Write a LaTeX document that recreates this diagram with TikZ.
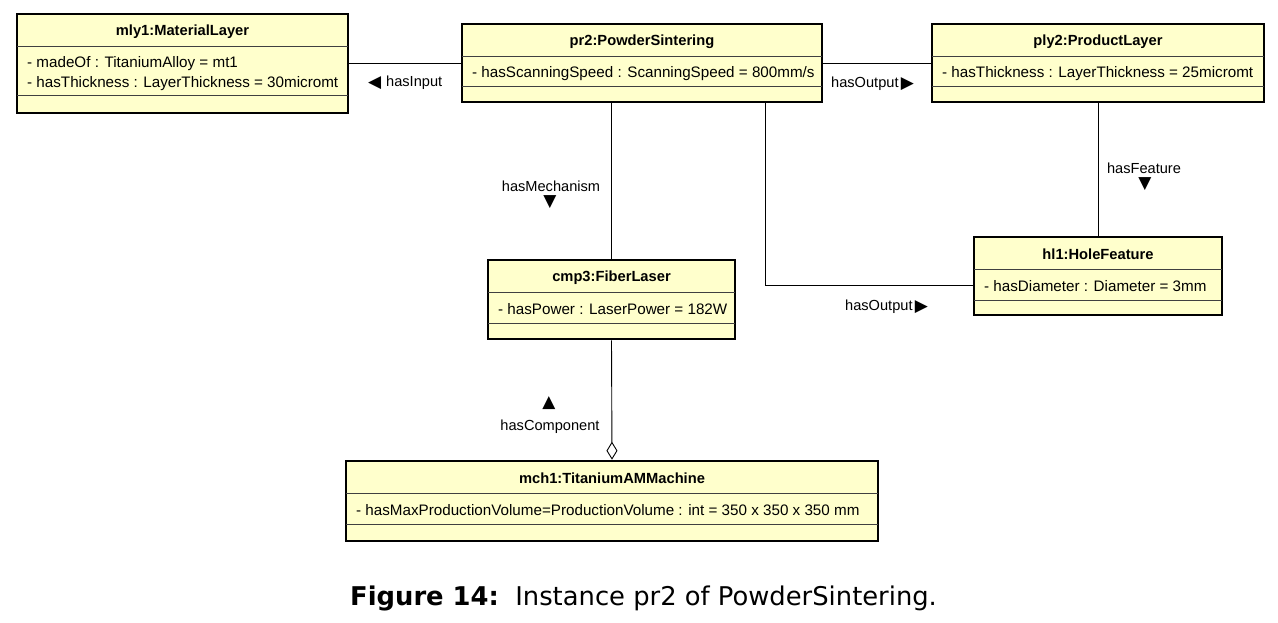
\documentclass[tikz,border=0pt]{standalone}
\usepackage{fontspec}
\setmainfont{Liberation Sans}
\newfontfamily\symfont{DejaVu Sans}
\newfontfamily\capfont{DejaVu Sans}
\usetikzlibrary{arrows.meta}
\definecolor{objfill}{RGB}{255,255,204}
\tikzset{
 objbox/.style={draw=black, line width=2.6pt, fill=objfill, inner sep=0pt, rectangle},
 divider/.style={draw=black!75, line width=1pt},
 titletext/.style={font=\fontsize{14.7}{16}\selectfont\bfseries, inner sep=0pt},
 attrtext/.style={font=\fontsize{15.2}{20}\selectfont, inner sep=0pt, anchor=west, align=left},
 lbl/.style={font=\fontsize{14.6}{16}\selectfont, inner sep=0pt},
 tri/.style={font=\symfont\fontsize{17}{18}\selectfont, inner sep=0pt},
 conn/.style={draw=black, line width=0.9pt},
}
\newcommand\umlobj[9]{%
 \node[objbox, minimum width={(#4-#2)*1pt}, minimum height={(#5-#3)*1pt}] (#1) at ({(#2+#4)/2},{(#3+#5)/2}) {};
 \draw[divider] (#2,#6) -- (#4,#6);
 \draw[divider] (#2,#7) -- (#4,#7);
 \node[titletext] (#1-title) at ({(#2+#4)/2},{(#3+#6)/2+1.5}) {#8};
 \node[attrtext] (#1-attrs) at ({#2+10},{(#6+#7)/2+2}) {#9};
}
\begin{document}
\begin{tikzpicture}[x=1pt,y=-1pt]
\useasboundingbox[fill=white] (0,0) rectangle (1278,623);
\umlobj{mly}{17}{14}{348}{113}{47}{96}{mly1:MaterialLayer}{- madeOf : TitaniumAlloy = mt1\\- hasThickness : LayerThickness = 30micromt}
\umlobj{pr2}{462}{24}{822}{102}{57}{87}{pr2:PowderSintering}{- hasScanningSpeed : ScanningSpeed = 800mm/s}
\umlobj{ply2}{932}{24}{1264}{102}{57}{87}{ply2:ProductLayer}{- hasThickness : LayerThickness = 25micromt}
\umlobj{cmp}{488}{260}{735}{339}{292}{323}{cmp3:FiberLaser}{- hasPower : LaserPower = 182W}
\umlobj{hl}{974}{237}{1222}{315}{269}{300}{hl1:HoleFeature}{- hasDiameter : Diameter = 3mm}
\umlobj{mch}{346}{461}{878}{541}{493}{524}{mch1:TitaniumAMMachine}{- hasMaxProductionVolume=ProductionVolume : int = 350 x 350 x 350 mm}
% connectors
\draw[conn] (pr2.west) -- (pr2.west -| mly.east);
\draw[conn] (pr2.east) -- (pr2.east -| ply2.west);
\draw[conn] (cmp.north |- pr2.south) -- (cmp.north);
\draw[conn] ([xshift=123pt]pr2.south) |- ([yshift=-9pt]hl.west);
\draw[conn] (ply2.south) -- (hl.north);
\draw[conn, -{Diamond[open,length=18pt,width=11pt,line width=0.9pt]}] (cmp.south) -- (mch.north);
% labels
\node[tri, anchor=west] (tIn) at (368,83) {◀};
\node[lbl, anchor=west] (lIn) at (386,83) {hasInput};
\node[lbl, anchor=west] (lOut1) at (831,84) {hasOutput};
\node[tri, anchor=west] (tOut1) at ([xshift=2pt]lOut1.east) {▶};
\node[lbl] (lMech) at (551,186) {hasMechanism};
\node[tri] (tMech) at (550,202) {▼};
\node[lbl] (lFeat) at (1144,168) {hasFeature};
\node[tri] (tFeat) at (1145,184) {▼};
\node[lbl, anchor=west] (lOut2) at (845,307) {hasOutput};
\node[tri, anchor=west] (tOut2) at ([xshift=2pt]lOut2.east) {▶};
\node[tri] (tComp) at (549,403) {▲};
\node[lbl] (lComp) at (550,427) {hasComponent};
% caption
\node[anchor=base west, inner sep=0pt, font=\capfont\fontsize{25.8}{28}\selectfont] (cap) at (350,605) {\textbf{Figure 14:}\ \ Instance pr2 of PowderSintering.};
\end{tikzpicture}
\end{document}
